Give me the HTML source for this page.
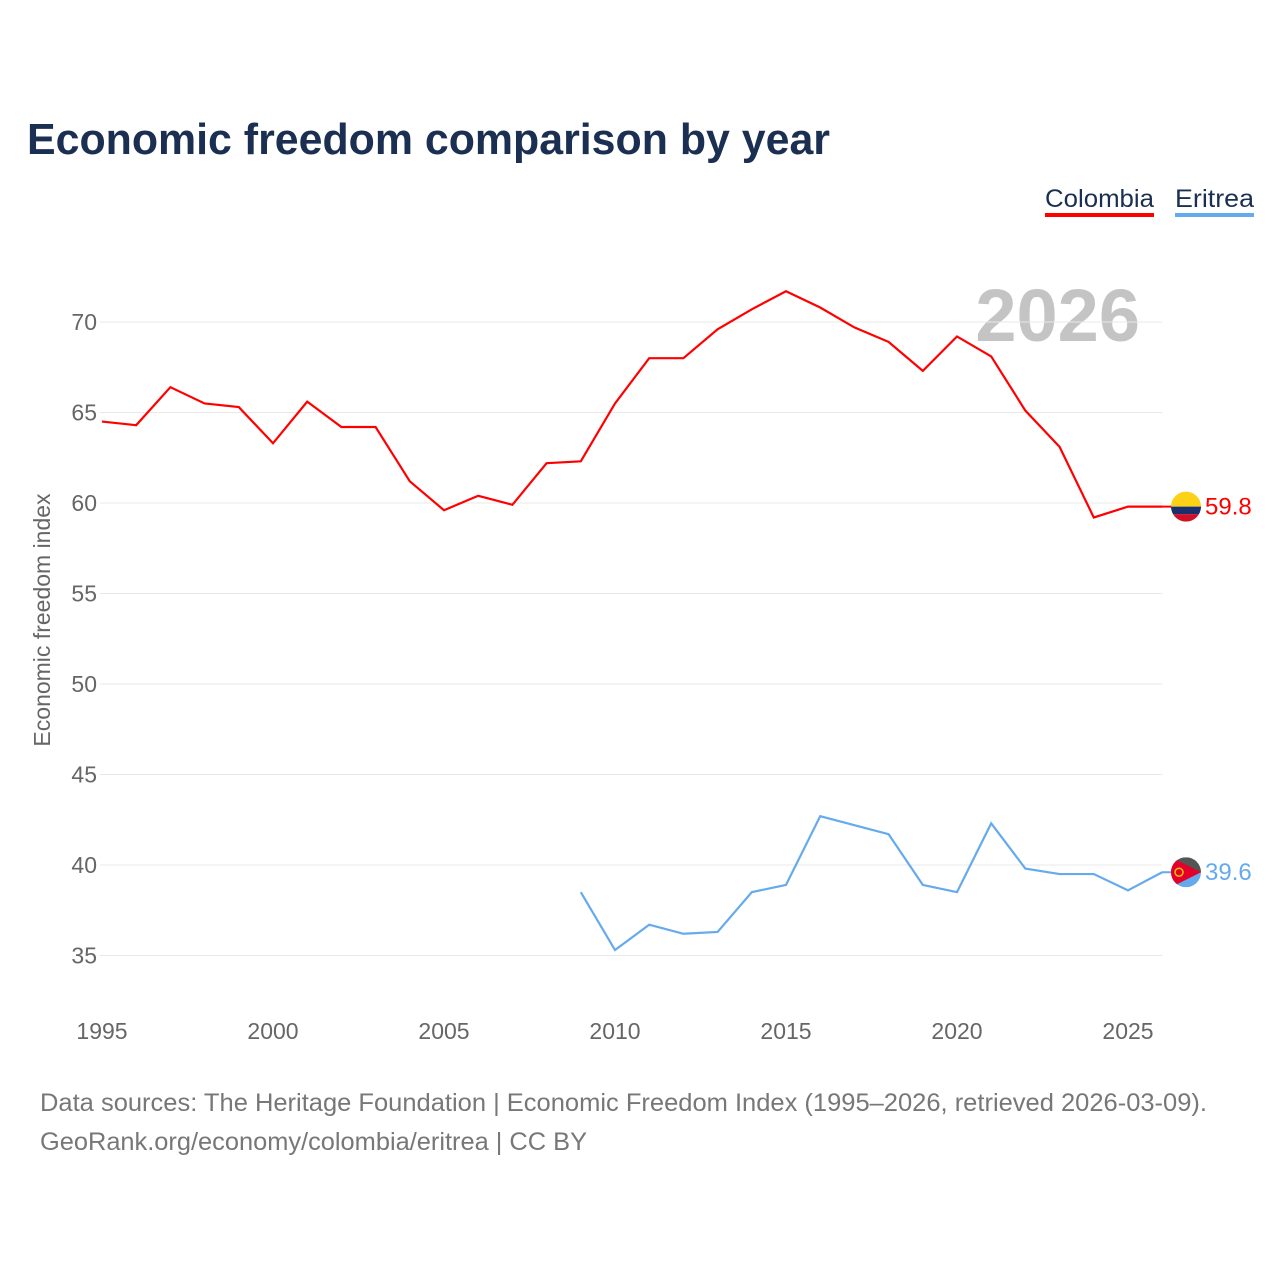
<!DOCTYPE html>
<html><head><meta charset="utf-8"><style>
body{margin:0;background:#fff;font-family:"Liberation Sans",sans-serif}
svg text{font-family:"Liberation Sans",sans-serif}
</style></head><body>
<svg id="chart" width="1280" height="1280" viewBox="0 0 1280 1280" xmlns="http://www.w3.org/2000/svg">
<text x="27" y="154" font-size="44" font-weight="bold" fill="#1b2f52" textLength="803" lengthAdjust="spacingAndGlyphs">Economic freedom comparison by year</text>
<g><text x="1045" y="207" font-size="25" fill="#1b2f52" textLength="109" lengthAdjust="spacingAndGlyphs">Colombia</text><rect x="1045" y="213" width="109" height="4" fill="#ff0000"/></g>
<g><text x="1175" y="207" font-size="25" fill="#1b2f52" textLength="79" lengthAdjust="spacingAndGlyphs">Eritrea</text><rect x="1175" y="213" width="79" height="4" fill="#66aaee"/></g>
<text x="1140" y="341" font-size="74" font-weight="bold" fill="#c4c4c4" text-anchor="end">2026</text>
<text transform="translate(50,620) rotate(-90)" font-size="23" fill="#666" text-anchor="middle">Economic freedom index</text>
<g id="grid"></g><g id="lines"></g><g id="ends"></g>
<text x="40" y="1111" font-size="25" fill="#777" textLength="1167" lengthAdjust="spacingAndGlyphs">Data sources: The Heritage Foundation | Economic Freedom Index (1995–2026, retrieved 2026-03-09).</text>
<text x="40" y="1150" font-size="25" fill="#777" textLength="547" lengthAdjust="spacingAndGlyphs">GeoRank.org/economy/colombia/eritrea | CC BY</text>
</svg>
<script>
const years=[1995,1996,1997,1998,1999,2000,2001,2002,2003,2004,2005,2006,2007,2008,2009,2010,2011,2012,2013,2014,2015,2016,2017,2018,2019,2020,2021,2022,2023,2024,2025,2026];
const colombia=[64.5,64.3,66.4,65.5,65.3,63.3,65.6,64.2,64.2,61.2,59.6,60.4,59.9,62.2,62.3,65.5,68.0,68.0,69.6,70.7,71.7,70.8,69.7,68.9,67.3,69.2,68.1,65.1,63.1,59.2,59.8,59.8];
const eritreaYears=[2009,2010,2011,2012,2013,2014,2015,2016,2017,2018,2019,2020,2021,2022,2023,2024,2025,2026];
const eritrea=[38.5,35.3,36.7,36.2,36.3,38.5,38.9,42.7,42.2,41.7,38.9,38.5,42.3,39.8,39.5,39.5,38.6,39.6];
const yTicks=[35,40,45,50,55,60,65,70];
const xTicks=[1995,2000,2005,2010,2015,2020,2025];
const NS='http://www.w3.org/2000/svg';
const x=v=>102+(v-1995)*(1128-102)/30;
const y=v=>503-(v-60)*(503-322)/10;
function mk(t,a,p){const e=document.createElementNS(NS,t);for(const k in a)e.setAttribute(k,a[k]);p.appendChild(e);return e;}
const g=document.getElementById('grid');
yTicks.forEach(t=>{
 const l=mk('line',{x1:100,x2:1162,y1:y(t),y2:y(t),stroke:'#e8e8e8','stroke-width':1},g);
 
 
 const tx=mk('text',{x:97,y:y(t)+8,'font-size':23,fill:'#666','text-anchor':'end'},g);tx.textContent=t;
 
 
});
xTicks.forEach(t=>{
 const tx=mk('text',{x:x(t),y:1039,'font-size':23,fill:'#666','text-anchor':'middle'},g);tx.textContent=t;
 
 
});
const L=document.getElementById('lines');
const p1=mk('polyline',{points:years.map((yr,i)=>x(yr)+','+y(colombia[i])).join(' '),fill:'none',stroke:'#ff0000','stroke-width':2.2},L);


const p2=mk('polyline',{points:eritreaYears.map((yr,i)=>x(yr)+','+y(eritrea[i])).join(' '),fill:'none',stroke:'#66aaee','stroke-width':2.2},L);


const E=document.getElementById('ends');
const cy=y(colombia[colombia.length-1]),ey=y(eritrea[eritrea.length-1]);
mk('line',{x1:1162,x2:1172,y1:cy,y2:cy,stroke:'#ff0000','stroke-width':2},E);
mk('line',{x1:1162,x2:1172,y1:ey,y2:ey,stroke:'#66aaee','stroke-width':2},E);
const f1=mk('g',{},E);


const cp1=mk('clipPath',{id:'c1'},f1);mk('circle',{cx:1186,cy:cy,r:15},cp1);
mk('rect',{x:1171,y:cy-15,width:30,height:15,fill:'#fcd116','clip-path':'url(#c1)'},f1);
mk('rect',{x:1171,y:cy,width:30,height:7.5,fill:'#1b2f6e','clip-path':'url(#c1)'},f1);
mk('rect',{x:1171,y:cy+7.5,width:30,height:7.5,fill:'#ce1126','clip-path':'url(#c1)'},f1);
const f2=mk('g',{},E);


const cp=mk('clipPath',{id:'c2'},f2);mk('circle',{cx:1186,cy:ey,r:15},cp);
mk('rect',{x:1171,y:ey-15,width:30,height:15,fill:'#555','clip-path':'url(#c2)'},f2);
mk('rect',{x:1171,y:ey,width:30,height:15,fill:'#66aaee','clip-path':'url(#c2)'},f2);
mk('polygon',{points:`1171,${ey-15} 1201,${ey} 1171,${ey+15}`,fill:'#e4002b','clip-path':'url(#c2)'},f2);
mk('circle',{cx:1179,cy:ey,r:4,fill:'none',stroke:'#f3c500','stroke-width':1.5},f2);
const t1=mk('text',{x:1205,y:cy+8,'font-size':24,fill:'#ff0000'},E);t1.textContent=colombia[colombia.length-1].toFixed(1);


const t2=mk('text',{x:1205,y:ey+8,'font-size':24,fill:'#66aaee'},E);t2.textContent=eritrea[eritrea.length-1].toFixed(1);


</script>
</body></html>
